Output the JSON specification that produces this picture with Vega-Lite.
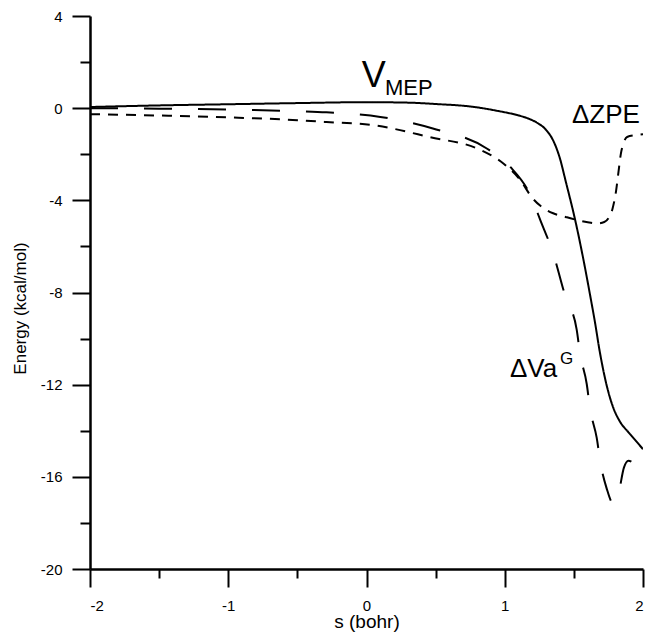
{
  "$schema": "https://vega.github.io/schema/vega-lite/v6.json",
  "autosize": {"type": "none"},
  "width": 553,
  "height": 553,
  "padding": {"left": 90, "top": 16, "right": 2, "bottom": 66},
  "background": "white",
  "config": {
    "view": {"stroke": null},
    "axis": {"grid": false, "domainColor": "black", "tickColor": "black", "labelColor": "black", "titleColor": "black", "labelFont": "Liberation Sans", "titleFont": "Liberation Sans", "labelFontSize": 15, "titleFontWeight": "normal", "domainWidth": 2.5, "tickWidth": 2},
    "text": {"font": "Liberation Sans", "align": "left", "baseline": "alphabetic", "color": "black"}
  },
  "datasets": {
    "curves": [
      {"s": -2.0, "E": 0.05, "c": "VMEP"},
      {"s": -1.5, "E": 0.12, "c": "VMEP"},
      {"s": -1.0, "E": 0.17, "c": "VMEP"},
      {"s": -0.5, "E": 0.22, "c": "VMEP"},
      {"s": 0.0, "E": 0.26, "c": "VMEP"},
      {"s": 0.3, "E": 0.24, "c": "VMEP"},
      {"s": 0.5, "E": 0.18, "c": "VMEP"},
      {"s": 0.77, "E": 0.06, "c": "VMEP"},
      {"s": 0.95, "E": -0.12, "c": "VMEP"},
      {"s": 1.09, "E": -0.3, "c": "VMEP"},
      {"s": 1.17, "E": -0.45, "c": "VMEP"},
      {"s": 1.23, "E": -0.62, "c": "VMEP"},
      {"s": 1.3, "E": -0.95, "c": "VMEP"},
      {"s": 1.35, "E": -1.4, "c": "VMEP"},
      {"s": 1.4, "E": -2.2, "c": "VMEP"},
      {"s": 1.44, "E": -3.15, "c": "VMEP"},
      {"s": 1.51, "E": -4.87, "c": "VMEP"},
      {"s": 1.57, "E": -6.6, "c": "VMEP"},
      {"s": 1.62, "E": -8.2, "c": "VMEP"},
      {"s": 1.65, "E": -9.2, "c": "VMEP"},
      {"s": 1.69, "E": -10.66, "c": "VMEP"},
      {"s": 1.74, "E": -12.1, "c": "VMEP"},
      {"s": 1.785, "E": -13.0, "c": "VMEP"},
      {"s": 1.83, "E": -13.57, "c": "VMEP"},
      {"s": 1.9, "E": -14.1, "c": "VMEP"},
      {"s": 1.95, "E": -14.45, "c": "VMEP"},
      {"s": 2.0, "E": -14.8, "c": "VMEP"},

      {"s": -2.0, "E": 0.0, "c": "DVaG"},
      {"s": -1.5, "E": -0.02, "c": "DVaG"},
      {"s": -1.0, "E": -0.06, "c": "DVaG"},
      {"s": -0.5, "E": -0.13, "c": "DVaG"},
      {"s": -0.29, "E": -0.18, "c": "DVaG"},
      {"s": 0.1, "E": -0.38, "c": "DVaG"},
      {"s": 0.48, "E": -0.88, "c": "DVaG"},
      {"s": 0.87, "E": -1.75, "c": "DVaG"},
      {"s": 1.04, "E": -2.55, "c": "DVaG"},
      {"s": 1.18, "E": -3.71, "c": "DVaG"},
      {"s": 1.26, "E": -4.9, "c": "DVaG"},
      {"s": 1.35, "E": -6.3, "c": "DVaG"},
      {"s": 1.44, "E": -8.2, "c": "DVaG"},
      {"s": 1.52, "E": -9.6, "c": "DVaG"},
      {"s": 1.545, "E": -10.67, "c": "DVaG"},
      {"s": 1.593, "E": -11.97, "c": "DVaG"},
      {"s": 1.617, "E": -13.04, "c": "DVaG"},
      {"s": 1.665, "E": -14.3, "c": "DVaG"},
      {"s": 1.694, "E": -15.45, "c": "DVaG"},
      {"s": 1.737, "E": -16.5, "c": "DVaG"},
      {"s": 1.785, "E": -17.16, "c": "DVaG"},
      {"s": 1.822, "E": -16.75, "c": "DVaG"},
      {"s": 1.862, "E": -15.6, "c": "DVaG"},
      {"s": 1.894, "E": -15.3, "c": "DVaG"},
      {"s": 1.95, "E": -15.5, "c": "DVaG"},
      {"s": 2.0, "E": -15.8, "c": "DVaG"},

      {"s": -2.0, "E": -0.26, "c": "DZPE"},
      {"s": -1.5, "E": -0.32, "c": "DZPE"},
      {"s": -1.0, "E": -0.4, "c": "DZPE"},
      {"s": -0.5, "E": -0.52, "c": "DZPE"},
      {"s": -0.29, "E": -0.6, "c": "DZPE"},
      {"s": 0.05, "E": -0.74, "c": "DZPE"},
      {"s": 0.46, "E": -1.26, "c": "DZPE"},
      {"s": 0.82, "E": -1.8, "c": "DZPE"},
      {"s": 0.99, "E": -2.4, "c": "DZPE"},
      {"s": 1.11, "E": -3.1, "c": "DZPE"},
      {"s": 1.2, "E": -3.9, "c": "DZPE"},
      {"s": 1.26, "E": -4.25, "c": "DZPE"},
      {"s": 1.35, "E": -4.56, "c": "DZPE"},
      {"s": 1.44, "E": -4.72, "c": "DZPE"},
      {"s": 1.52, "E": -4.85, "c": "DZPE"},
      {"s": 1.6, "E": -4.95, "c": "DZPE"},
      {"s": 1.67, "E": -5.0, "c": "DZPE"},
      {"s": 1.72, "E": -4.94, "c": "DZPE"},
      {"s": 1.75, "E": -4.78, "c": "DZPE"},
      {"s": 1.78, "E": -4.35, "c": "DZPE"},
      {"s": 1.805, "E": -3.6, "c": "DZPE"},
      {"s": 1.82, "E": -2.9, "c": "DZPE"},
      {"s": 1.84, "E": -1.97, "c": "DZPE"},
      {"s": 1.86, "E": -1.5, "c": "DZPE"},
      {"s": 1.885, "E": -1.25, "c": "DZPE"},
      {"s": 1.95, "E": -1.17, "c": "DZPE"},
      {"s": 2.0, "E": -1.13, "c": "DZPE"}
    ],
    "labels": [
      {"t": "V", "s": -0.035, "E": 0.913, "k": "big"},
      {"t": "MEP", "s": 0.134, "E": 0.565, "k": "sub"},
      {"t": "ΔZPE", "s": 1.486, "E": -0.652, "k": "mid"},
      {"t": "ΔVa", "s": 1.038, "E": -11.65, "k": "mid"},
      {"t": "G", "s": 1.4, "E": -11.1, "k": "sup"}
    ]
  },
  "resolve": {"axis": {"x": "independent", "y": "independent"}},
  "layer": [
    {
      "data": {"name": "curves"},
      "mark": {"type": "line", "interpolate": "monotone", "strokeWidth": 2, "color": "black", "clip": true},
      "encoding": {
        "x": {"field": "s", "type": "quantitative", "scale": {"domain": [-2, 2], "nice": false, "zero": false},
          "axis": {"orient": "bottom", "values": [-2, -1, 0, 1, 2], "labelExpr": "'' + datum.value", "tickSize": 18, "labelPadding": 11, "title": "s (bohr)", "titleFontSize": 19, "titleBaseline": "alphabetic", "titleY": 58}},
        "y": {"field": "E", "type": "quantitative", "scale": {"domain": [-20, 4], "nice": false, "zero": false},
          "axis": {"orient": "left", "values": [-20, -16, -12, -8, -4, 0, 4], "labelExpr": "'' + datum.value", "tickSize": 18, "labelPadding": 10, "title": "Energy (kcal/mol)", "titleFontSize": 17, "titleAngle": 270, "titleBaseline": "alphabetic", "titleX": -65, "titleY": 292}},
        "strokeDash": {"field": "c", "type": "nominal", "scale": {"domain": ["VMEP", "DVaG", "DZPE"], "range": [[1, 0], [28, 26], [10, 8]]}, "legend": null}
      }
    },
    {
      "data": {"name": "labels"},
      "transform": [{"filter": "datum.k == 'big'"}],
      "mark": {"type": "text", "fontSize": 36},
      "encoding": {
        "x": {"field": "s", "type": "quantitative", "scale": {"domain": [-2, 2], "nice": false, "zero": false},
          "axis": {"orient": "bottom", "values": [-1.5, -0.5, 0.5, 1.5], "tickSize": 9, "labels": false, "domain": false, "title": null}},
        "y": {"field": "E", "type": "quantitative", "scale": {"domain": [-20, 4], "nice": false, "zero": false},
          "axis": {"orient": "left", "values": [-18, -14, -10, -6, -2, 2], "tickSize": 10, "labels": false, "domain": false, "title": null}},
        "text": {"field": "t", "type": "nominal"}
      }
    },
    {
      "data": {"name": "labels"},
      "transform": [{"filter": "datum.k == 'mid'"}],
      "mark": {"type": "text", "fontSize": 26},
      "encoding": {
        "x": {"field": "s", "type": "quantitative", "axis": null},
        "y": {"field": "E", "type": "quantitative", "axis": null},
        "text": {"field": "t", "type": "nominal"}
      }
    },
    {
      "data": {"name": "labels"},
      "transform": [{"filter": "datum.k == 'sub'"}],
      "mark": {"type": "text", "fontSize": 22},
      "encoding": {
        "x": {"field": "s", "type": "quantitative", "axis": null},
        "y": {"field": "E", "type": "quantitative", "axis": null},
        "text": {"field": "t", "type": "nominal"}
      }
    },
    {
      "data": {"name": "labels"},
      "transform": [{"filter": "datum.k == 'sup'"}],
      "mark": {"type": "text", "fontSize": 17},
      "encoding": {
        "x": {"field": "s", "type": "quantitative", "axis": null},
        "y": {"field": "E", "type": "quantitative", "axis": null},
        "text": {"field": "t", "type": "nominal"}
      }
    }
  ]
}
